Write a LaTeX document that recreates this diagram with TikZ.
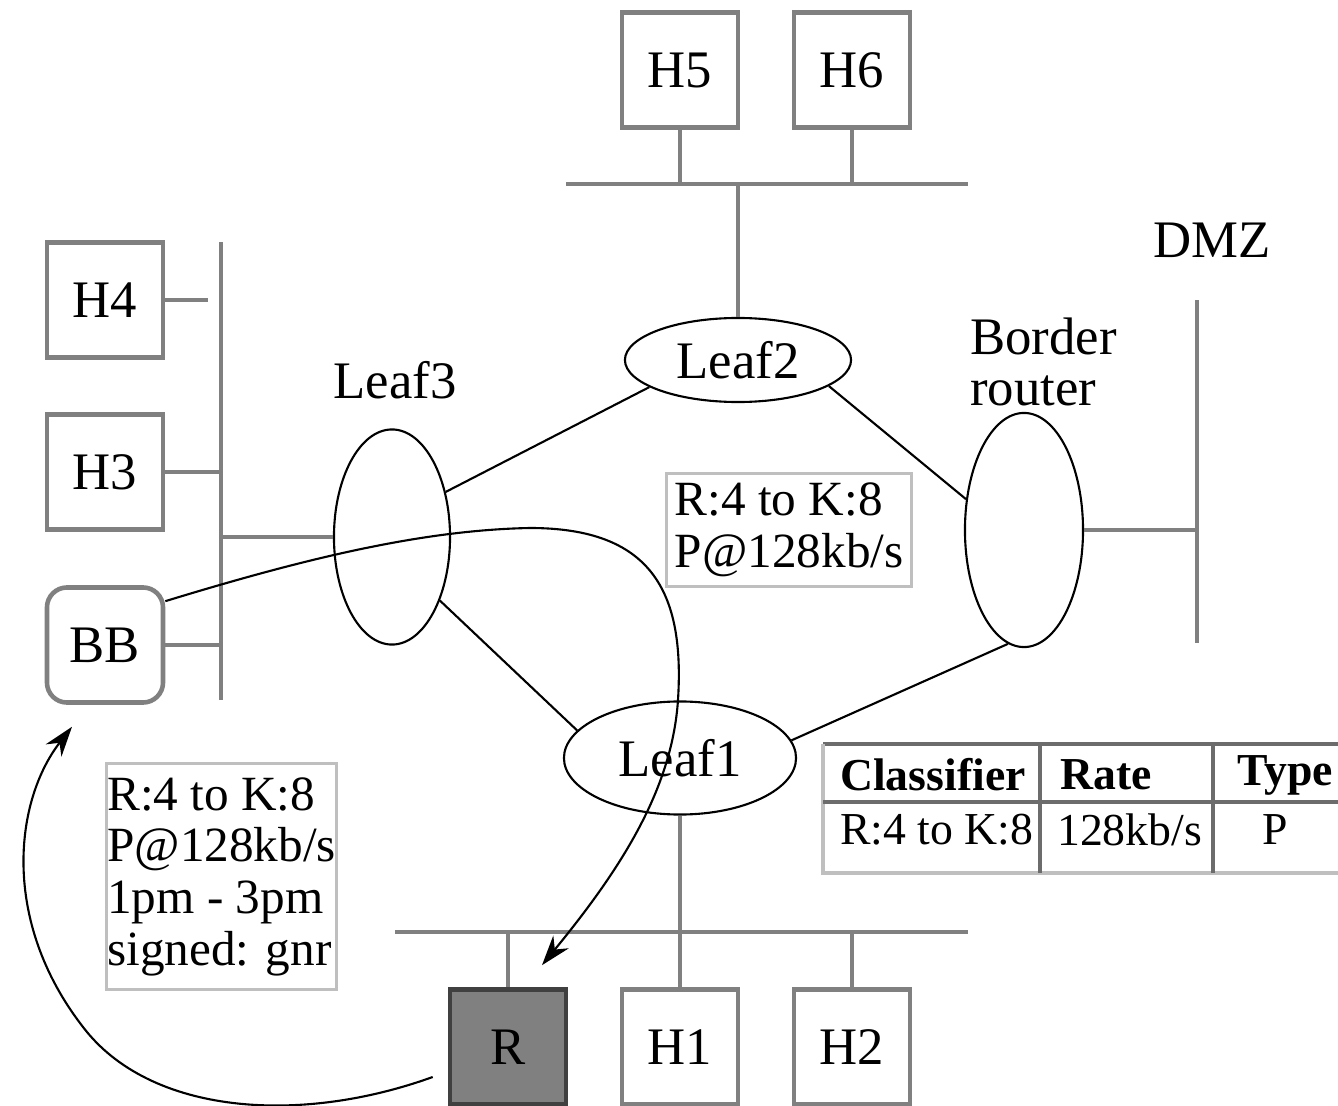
\documentclass[tikz,border=0pt]{standalone}
\usepackage{fontspec}
\setmainfont{Liberation Serif}
\usetikzlibrary{shapes.geometric,arrows.meta,calc}

\begin{document}
\begin{tikzpicture}[
  x=0.01cm, y=-0.01cm,
  every node/.style={inner sep=1pt, font=\fontsize{15}{14.5}\selectfont},
  host/.style={rectangle, draw=gray, line width=1.3pt, minimum width=1.16cm,
    minimum height=1.15cm, inner sep=0pt},
  router/.style={ellipse, draw, line width=0.6pt, inner sep=0pt},
  wire/.style={draw=gray, line width=1.3pt},
  link/.style={draw, line width=0.6pt},
  % the two grey reservation notes and the classifier table
  note/.style={draw=lightgray, line width=0.9pt, anchor=north west, align=left,
    inner sep=0pt, font=\fontsize{14}{14.7}\selectfont},
  cell/.style={anchor=west, font=\fontsize{13}{15}\selectfont},
  flow/.style={draw, line width=0.6pt, -{Stealth[length=3mm, width=2mm]}}]

  \useasboundingbox (0,0) rectangle (1338,1106);

  % hosts
  \node[host] (h5) at (680,70) {H5};
  \node[host] (h6) at (852,70) {H6};
  \node[host] (h4) at (105,300) {H4};
  \node[host] (h3) at (105,472) {H3};
  \node[host, rounded corners=0.2cm] (bb) at (105,645) {BB};
  \node[host, fill=gray, draw=darkgray] (r) at (508,1047) {R};
  \node[host] (h1) at (680,1047) {H1};
  \node[host] (h2) at (852,1047) {H2};

  % routers
  \node[router, minimum width=2.26cm, minimum height=0.84cm] (leaf2) at (738,360) {Leaf2};
  \node[router, minimum width=1.16cm, minimum height=2.15cm] (leaf3) at (392,537) {};
  \node[router, minimum width=1.18cm, minimum height=2.34cm] (border) at (1024,530) {};
  \node[router, minimum width=2.32cm, minimum height=1.13cm] (leaf1) at (680,758) {Leaf1};

  % router names
  \node (leaf3lbl) at (395,380) {Leaf3};
  \node[anchor=west, align=left] (borderlbl) at (966,362) {Border\\router};
  \node (dmzlbl) at (1212,240) {DMZ};

  % segments
  \coordinate (topl) at (566,184);
  \coordinate (topr) at (968,184);
  \coordinate (leftt) at (221,242);
  \coordinate (leftb) at (221,700);
  \coordinate (lowl) at (395,932);
  \coordinate (lowr) at (968,932);
  \coordinate (dmzt) at (1197,300);
  \coordinate (dmzb) at (1197,643);
  \draw[wire] (topl) -- (topr);
  \draw[wire] (leftt) -- (leftb);
  \draw[wire] (lowl) -- (lowr);
  \draw[wire] (dmzt) -- (dmzb);

  % taps
  \draw[wire] (h5.south) -- (h5.south |- topl);
  \draw[wire] (h6.south) -- (h6.south |- topl);
  \draw[wire] (leaf2.north) -- (leaf2.north |- topl);
  \draw[wire] (h4.east) -- ++(43,0);
  \draw[wire] (h3.east) -- (h3.east -| leftt);
  \draw[wire] (bb.east) -- (bb.east -| leftt);
  \draw[wire] (leaf3.west) -- (leaf3.west -| leftt);
  \draw[wire] (border.east) -- (border.east -| dmzt);
  \draw[wire] (r.north) -- (r.north |- lowl);
  \draw[wire] (leaf1.south) -- (h1.north);
  \draw[wire] (h2.north) -- (h2.north |- lowl);

  % router links
  \draw[link] (leaf3.40) -- (leaf2.197);
  \draw[link] (leaf3.-53) -- (leaf1.165);
  \draw[link] (leaf2.-16) -- (border.152);
  \draw[link] (leaf1.9) -- (border.262);

  % notes
  \node[note, minimum width=2.45cm, minimum height=1.13cm] (note1) at (665,472)
    {R:4 to K:8\\P@128kb/s};
  \node[note, minimum width=2.3cm, minimum height=2.26cm] (note2) at (105,762)
    {R:4 to K:8\\P@128kb/s\\1pm - 3pm\\signed: gnr};

  % classifier table
  \draw[draw=gray!85!black, line width=0.9pt] (823,744) -- (1338,744);
  \draw[draw=lightgray, line width=0.9pt] (823,744) -- (823,873) -- (1338,873);
  \draw[draw=gray!85!black, line width=0.9pt] (823,802) -- (1338,802);
  \draw[draw=gray!85!black, line width=0.9pt] (1040,744) -- (1040,873);
  \draw[draw=gray!85!black, line width=0.9pt] (1213,744) -- (1213,873);
  \node[cell] (c11) at (836,775) {\textbf{Classifier}};
  \node[cell] (c12) at (1056,775) {\textbf{Rate}};
  \node[cell] (c13) at (1233,775) {\textbf{Type}};
  \node[cell] (c21) at (836,830) {R:4 to K:8};
  \node[cell] (c22) at (1053,830) {128kb/s};
  \node[cell] (c23) at (1258,830) {P};

  % reservation flows
  \coordinate (rtip) at ($(r.north)+(34,-22)$);
  \coordinate (rfoot) at ($(r.west)+(-15,30)$);
  \coordinate (bbtip) at ($(bb.south)+(-33,22)$);
  \draw[flow] (bb.36) .. controls (300,560) and (420,530) .. (530,528)
    .. controls (650,528) and (685,590) .. (678,700)
    .. controls (672,790) and (620,870) .. (rtip);
  \draw[flow] (rfoot) .. controls (300,1125) and (150,1115) .. (83,1027)
    .. controls (0,920) and (15,800) .. (bbtip);
\end{tikzpicture}
\end{document}
